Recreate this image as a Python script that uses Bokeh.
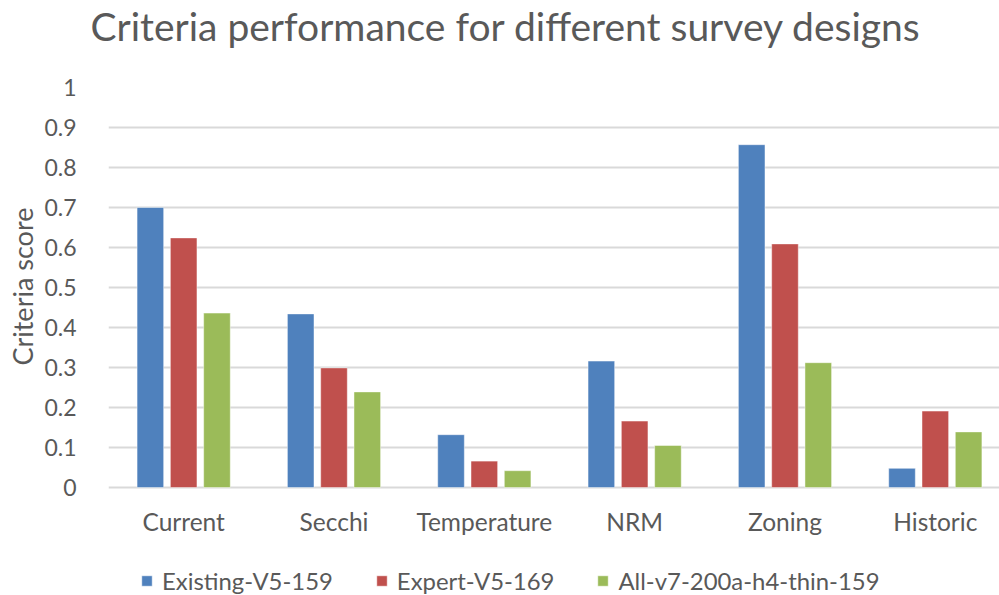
from bokeh.plotting import figure
from bokeh.models import ColumnDataSource, Range1d, FixedTicker, Legend, LegendItem, Title
from bokeh.core.properties import value
from bokeh.embed import file_html
from bokeh.resources import INLINE

categories = ["Current", "Secchi", "Temperature", "NRM", "Zoning", "Historic"]
series_names = ["Existing-V5-159", "Expert-V5-169", "All-v7-200a-h4-thin-159"]
existing = [0.70, 0.434, 0.132, 0.316, 0.857, 0.048]
expert = [0.624, 0.299, 0.066, 0.166, 0.609, 0.191]
allv7 = [0.436, 0.239, 0.042, 0.105, 0.312, 0.139]
colors = ["#4F81BD", "#C0504D", "#9BBB59"]
y_ticks = [0, 0.1, 0.2, 0.3, 0.4, 0.5, 0.6, 0.7, 0.8, 0.9, 1]

FONT = "Lato"
GREY = "#595959"

# frame spans y 87..595; 400 px per unit; value 0 sits at y=487
p = figure(width=999, height=595, output_backend="svg", toolbar_location=None, title=None,
           x_range=Range1d(0, 5.927), y_range=Range1d(-0.27, 1),
           min_border_left=107, min_border_right=0, min_border_top=87, min_border_bottom=0)
p.outline_line_color = None
p.background_fill_color = "white"

centers = [i + 0.5 for i in range(len(categories))]
offsets = [-0.2215, 0.0, 0.2215]
renderers = []
for vals, off, col in zip([existing, expert, allv7], offsets, colors):
    src = ColumnDataSource(dict(x=[c + off for c in centers], top=vals))
    r = p.vbar(x="x", top="top", bottom=0, width=0.177, source=src, fill_color=col,
               line_color="white", line_alpha=0.45, line_width=1)
    renderers.append(r)

# category labels under the zero line
cat_src = ColumnDataSource(dict(x=centers, y=[0] * len(categories), text=categories))
p.text(x="x", y="y", text="text", source=cat_src, text_align="center",
       text_baseline="alphabetic", y_offset=33.5, text_font=value(FONT),
       text_font_size="24.5px", text_color=GREY)

p.xaxis.visible = False

p.yaxis.ticker = FixedTicker(ticks=y_ticks)
p.yaxis.major_label_overrides = {0: "0", 1: "1"}
p.yaxis.axis_line_color = None
p.yaxis.major_tick_line_color = None
p.yaxis.minor_tick_line_color = None
p.yaxis.major_label_text_font = FONT
p.yaxis.major_label_text_font_size = "23px"
p.yaxis.major_label_text_color = GREY
p.yaxis.major_label_standoff = 26

p.xgrid.grid_line_color = None
p.ygrid.grid_line_color = "#D9D9D9"
p.ygrid.grid_line_width = 2

# y-axis title
ytitle = Title(text="Criteria score", align="left", offset=230, standoff=6,
               text_font=FONT, text_font_size="27px", text_font_style="normal",
               text_color=GREY)
p.add_layout(ytitle, "left")

# blank spacer between frame and main title, then the main title
spacer = Title(text=" ", text_font_size="1px", standoff=36, text_color="white")
p.add_layout(spacer, "above")
main_title = Title(text="Criteria performance for different survey designs",
                   text_font=FONT, text_font_size="39px", text_font_style="normal",
                   text_color=GREY, align="left", offset=-18, standoff=0)
p.add_layout(main_title, "above")

legend = Legend(items=[LegendItem(label=n, renderers=[r]) for n, r in zip(series_names, renderers)],
                orientation="horizontal", location=(32, 0), padding=0, margin=0,
                glyph_width=13, glyph_height=13, label_standoff=9, spacing=42,
                label_text_font=FONT, label_text_font_size="23.9px", label_text_color=GREY,
                background_fill_alpha=0, border_line_color=None)
p.add_layout(legend, "center")

open("out.html", "w").write(file_html(p, INLINE))
